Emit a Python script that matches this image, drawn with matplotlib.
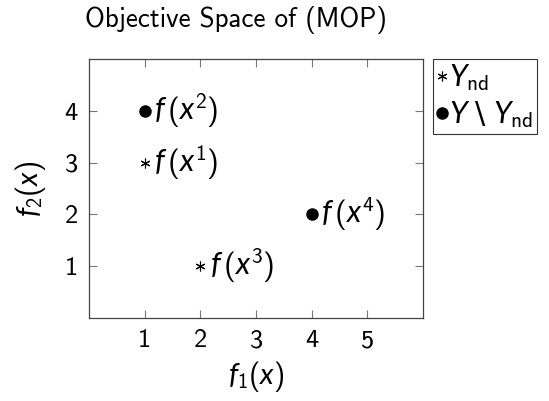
import matplotlib
matplotlib.use("Agg")
from matplotlib import pyplot as plt

plt.rcParams["font.family"] = ["cmss10", "DejaVu Sans"]
plt.rcParams["mathtext.fontset"] = "custom"
plt.rcParams["mathtext.rm"] = "cmss10"
plt.rcParams["mathtext.it"] = "Lato:italic"
plt.rcParams["mathtext.sf"] = "DejaVu Sans"
plt.rcParams["axes.unicode_minus"] = False

# objective vectors
nd_f1 = [1, 2]
nd_f2 = [3, 1]
nd_labels = [r"$f\,(x^{1})$", r"$f\,(x^{3})$"]

dom_f1 = [1, 4]
dom_f2 = [4, 2]
dom_labels = [r"$f\,(x^{2})$", r"$f\,(x^{4})$"]

x_ticks = [1, 2, 3, 4, 5]
y_ticks = [1, 2, 3, 4]

fig = plt.figure(figsize=(5.49, 4.01), dpi=100)
ax = fig.add_axes([0.1621, 0.2070, 0.6084, 0.6459])

ax.plot(nd_f1, nd_f2, linestyle="none", marker=(6, 2, 0), markersize=7,
        markeredgewidth=0.8, color="black", label=r"$Y_{\mathrm{nd}}$")
ax.plot(dom_f1, dom_f2, linestyle="none", marker="o", markersize=8,
        color="black", label=r"$Y\ \mathsf{\backslash}\ Y_{\mathrm{nd}}$")

for xs, ys, labels in ((nd_f1, nd_f2, nd_labels), (dom_f1, dom_f2, dom_labels)):
    for x, y, s in zip(xs, ys, labels):
        ax.annotate(s, (x, y), xytext=(7, 0), textcoords="offset points",
                    ha="left", va="center", fontsize=22)

ax.set_xlim(0, 6)
ax.set_ylim(0, 5)
ax.set_xticks(x_ticks)
ax.set_yticks(y_ticks)
ax.tick_params(direction="in", length=6, width=0.8, color="#777777",
               top=True, right=True, labelsize=19, pad=8)
for sp in ax.spines.values():
    sp.set_color("#444444")
    sp.set_linewidth(0.9)

ax.set_xlabel(r"$f_1(x)$", fontsize=21, labelpad=5)
ax.set_ylabel(r"$f_2(x)$", fontsize=21, labelpad=12)

fig.text(0.429, 0.95, "Objective Space of (MOP)", ha="center", va="center",
         fontsize=19.5)

leg = ax.legend(loc="upper left", bbox_to_anchor=(1.03, 1.0), fontsize=22,
                frameon=True, fancybox=False, edgecolor="black",
                handlelength=0.35, handletextpad=0.05, borderpad=0.12,
                labelspacing=0.2, borderaxespad=0)
leg.get_frame().set_linewidth(0.8)

fig.savefig("out.png", dpi=100)
